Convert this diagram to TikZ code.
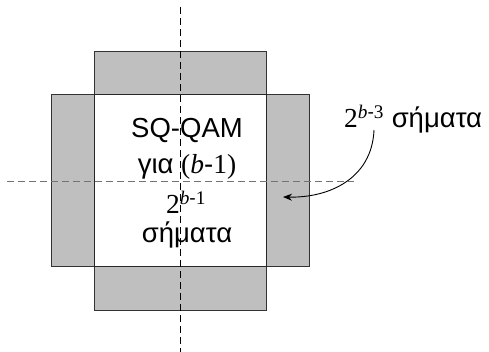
\documentclass[tikz,border=0pt]{standalone}
\usepackage{fontspec}
\setmainfont{Liberation Sans}
\newfontfamily\tms{Liberation Serif}
\usetikzlibrary{arrows.meta}
\begin{document}
\begin{tikzpicture}[x=1pt,y=-1pt,
  side/.style={draw=black!80,fill=black!25,line width=0.9pt},
  core/.style={draw=black!85,fill=white,line width=0.9pt},
  vaxis/.style={draw=black,dash pattern=on 7pt off 4pt,line width=0.7pt},
  haxis/.style={draw=black!55,dash pattern=on 7pt off 4pt,line width=0.9pt},
  lbl/.style={font=\fontsize{27.5}{33}\selectfont,inner sep=0pt,align=center},
  pointer/.style={draw=black,line width=0.9pt,-{Stealth[length=9pt,width=7pt]}}]
\useasboundingbox (0,0) rectangle (489,352);
\draw[side] (94.3,51.7) rectangle (266.3,94.7);
\draw[side] (51,94.7) rectangle (94.3,266.7);
\draw[side] (266.3,94.7) rectangle (309.7,266.7);
\draw[side] (94.3,266.7) rectangle (266.3,310);
\draw[core] (94.3,94.7) rectangle (266.3,266.7);
\node[lbl] (t1) at (187,130) {SQ-QAM};
\node[lbl] (t2) at (187,167) {για {\tms(\itshape b\upshape}-{\tms 1)}};
\node[lbl] (t3) at (186,202) {{\tms 2}\textsuperscript{{\tms\itshape b}-{\tms 1}}};
\node[lbl] (t4) at (187,235) {σήματα};
\draw[vaxis] (180.3,7) -- (180.3,352);
\draw[haxis] (7,181) -- (354,181);
\node[lbl,anchor=west] (r) at (344,119) {{\tms 2}\textsuperscript{{\tms\itshape b}-{\tms 3}} σήματα};
\coordinate (s) at (374,130);
\coordinate (e) at (283,197);
\draw[pointer] (s) .. controls (372,178) and (330,198) .. (e);
\end{tikzpicture}
\end{document}
